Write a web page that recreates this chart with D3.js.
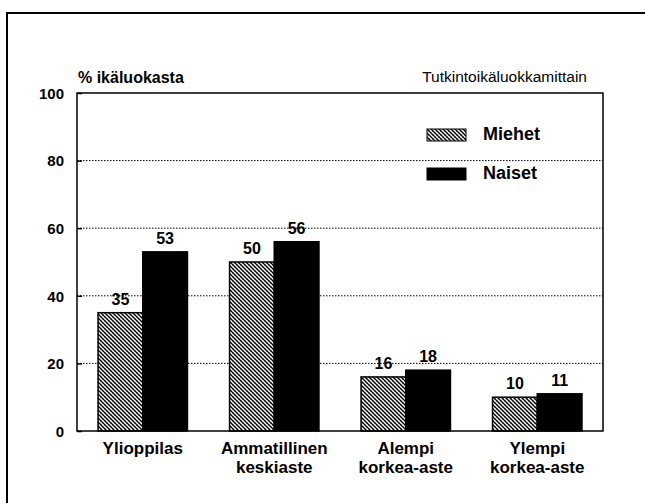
<!DOCTYPE html>
<html>
<head>
<meta charset="utf-8">
<script src="https://cdn.jsdelivr.net/npm/d3@7"></script>
<style>
  body { margin: 0; background: #fff; }
  svg { display: block; font-family: "Liberation Sans", Arial, sans-serif; }
</style>
</head>
<body>
<svg id="chart" width="645" height="503"></svg>
<script>
const CATEGORIES = [
    ['Ylioppilas'],
    ['Ammatillinen', 'keskiaste'],
    ['Alempi', 'korkea-aste'],
    ['Ylempi', 'korkea-aste']
];
const SERIES = ['Miehet', 'Naiset'];
const MIEHET = [35, 50, 16, 10];
const NAISET = [53, 56, 18, 11];
const Y_TICKS = [0, 20, 40, 60, 80, 100];

const svg = d3.select('#chart');
const margin = {left: 77, top: 93, right: 42, bottom: 72};
const width = 645 - margin.left - margin.right;

// hatch pattern for the men's bars
const defs = svg.append('defs');
const pat = defs.append('pattern')
    .attr('id', 'hatch')
    .attr('patternUnits', 'userSpaceOnUse')
    .attr('width', 4).attr('height', 4);
pat.append('rect').attr('width', 4).attr('height', 4).attr('fill', '#fff');
pat.append('path')
    .attr('d', 'M-1,-1 L5,5 M-1,3 L1,5 M3,-1 L5,1')
    .attr('stroke', '#000').attr('stroke-width', 1.3);
pat.append('path')
    .attr('d', 'M0,4 L4,0')
    .attr('stroke', '#555').attr('stroke-width', 0.6);

// outer frame (only left and top edges are inside the picture)
svg.append('path')
    .attr('d', 'M7,503 L7,13 L645,13')
    .attr('fill', 'none').attr('stroke', '#000').attr('stroke-width', 2);

const g = svg.append('g').attr('transform', `translate(${margin.left},${margin.top})`);

const x = d3.scaleBand()
    .domain(d3.range(CATEGORIES.length))
    .range([0, width])
    .paddingInner(0.32)
    .paddingOuter(0.16);
const xs = d3.scaleBand().domain(SERIES).range([0, x.bandwidth()]);
const y = d3.scaleLinear().domain([0, 100]).range([338, 0]);

// dotted grid lines
g.selectAll('.grid').data(Y_TICKS.filter(t => t > 0 && t < 100))
    .join('line')
    .attr('x1', 0).attr('x2', width)
    .attr('y1', d => y(d)).attr('y2', d => y(d))
    .attr('stroke', '#000').attr('stroke-width', 1)
    .attr('stroke-dasharray', '1.5,1.5');

// y axis: labels plus short ticks pointing into the plot
const yAxis = d3.axisLeft(y).tickValues(Y_TICKS).tickSize(-5).tickPadding(13);
g.append('g').call(yAxis)
    .call(a => a.select('.domain').remove())
    .call(a => a.selectAll('line').attr('stroke-width', 1.5))
    .selectAll('text')
    .attr('font-size', 15).attr('font-weight', 'bold')
    .attr('font-family', '"Liberation Sans", Arial, sans-serif')
    .attr('dy', '0.35em');

const data = SERIES.map((s, i) => ({key: s, values: i === 0 ? MIEHET : NAISET}));
const fills = {Miehet: 'url(#hatch)', Naiset: '#000'};

data.forEach(s => {
    g.selectAll('.bar-' + s.key).data(s.values)
        .join('rect')
        .attr('x', (d, i) => x(i) + xs(s.key))
        .attr('y', d => y(d))
        .attr('width', xs.bandwidth())
        .attr('height', d => y(0) - y(d))
        .attr('fill', fills[s.key])
        .attr('stroke', '#000').attr('stroke-width', 1.5);
    g.selectAll('.lbl-' + s.key).data(s.values)
        .join('text')
        .attr('x', (d, i) => x(i) + xs(s.key) + xs.bandwidth() / 2)
        .attr('y', d => y(d) - 8)
        .attr('text-anchor', 'middle')
        .attr('font-size', 16).attr('font-weight', 'bold')
        .text(d => d);
});

// plot border
g.append('rect')
    .attr('width', width).attr('height', y(0))
    .attr('fill', 'none').attr('stroke', '#000').attr('stroke-width', 1.5);

// category labels
CATEGORIES.forEach((lines, i) => {
    const t = g.append('text')
        .attr('x', x(i) + x.bandwidth() / 2)
        .attr('y', y(0) + 23)
        .attr('text-anchor', 'middle')
        .attr('font-size', 17).attr('font-weight', 'bold');
    lines.forEach((l, j) => {
        t.append('tspan')
            .attr('x', x(i) + x.bandwidth() / 2)
            .attr('dy', j === 0 ? 0 : 19)
            .text(l);
    });
});

// titles
svg.append('text')
    .attr('x', 78).attr('y', 83)
    .attr('font-size', 16).attr('font-weight', 'bold')
    .text('% ikäluokasta');
svg.append('text')
    .attr('x', 587).attr('y', 82)
    .attr('text-anchor', 'end')
    .attr('font-size', 15.5)
    .text('Tutkintoikäluokkamittain');

// legend
const legend = svg.append('g').attr('transform', 'translate(427,129)');
SERIES.forEach((s, i) => {
    legend.append('rect')
        .attr('x', 0).attr('y', i * 39)
        .attr('width', 39).attr('height', 12)
        .attr('fill', fills[s]).attr('stroke', '#000').attr('stroke-width', 1);
    legend.append('text')
        .attr('x', 56).attr('y', i * 39 + 11)
        .attr('font-size', 18).attr('font-weight', 'bold')
        .text(s);
});
</script>
</body>
</html>
